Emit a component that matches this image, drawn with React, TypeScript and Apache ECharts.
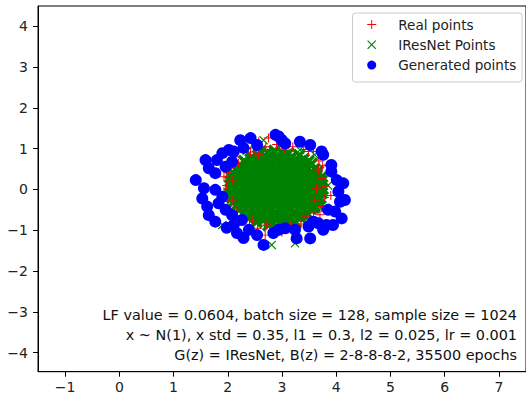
import React, { useEffect, useRef } from "react";
import * as echarts from "echarts";

const xTicks = [-1, 0, 1, 2, 3, 4, 5, 6, 7];
const yTicks = [-4, -3, -2, -1, 0, 1, 2, 3, 4];

const seriesNames = ["Real points", "IResNet Points", "Generated points"];

const annotationLines = [
  "LF value = 0.0604, batch size = 128, sample size = 1024",
  "x ~ N(1), x std = 0.35, l1 = 0.3, l2 = 0.025, lr = 0.001",
  "G(z) = IResNet, B(z) = 2-8-8-8-2, 35500 epochs",
];

const realPoints: number[][] = [
  [2.2, 0.64], [2.57, 0.85], [3.58, 0.93], [3.67, 0.48], [3.98, 0.31], [3.73, 0.27],
  [1.93, -0.05], [1.93, 0.31], [2.02, 0.52], [2.29, -0.71], [2.72, -0.87], [2.69, -1.12],
  [3.43, -0.67], [3.58, -0.58], [3.73, -0.42], [2.75, 1.26], [2.57, 1.17], [3.49, 0.93],
  [2.08, 0.23], [2.08, -0.26], [2.17, -0.5], [2.45, -0.75], [3.15, -0.87], [3.61, -0.26],
  [3.64, 0.03], [2.35, 1.0], [3.2, 1.05], [3.85, 0.6], [3.9, -0.15], [2.0, -0.4],
  [1.98, 0.1], [2.55, -0.95], [3.35, -0.85], [3.0, -1.05], [2.9, 1.1],
  [2.12, 0.8], [2.42, 0.92], [2.48, 1.02], [2.7, 1.05], [3.05, 1.0], [3.4, 0.98], [3.68, 0.7],
  [3.75, 0.58], [3.8, 0.08], [3.78, -0.2], [3.7, -0.62], [3.55, -0.8], [3.25, -0.95],
  [2.85, -1.0], [2.4, -0.88], [2.2, -0.8], [2.05, -0.62], [1.96, -0.2], [1.99, 0.42],
];

const iresnetPoints: number[][] = [
  [2.6, 0.93], [2.73, 0.9], [2.86, 0.95], [2.99, 0.91], [3.12, 0.88],
  [2.44, 0.8], [2.56, 0.84], [2.69, 0.81], [2.81, 0.85], [2.94, 0.79], [3.06, 0.83], [3.19, 0.8], [3.32, 0.84],
  [2.3, 0.7], [2.42, 0.74], [2.54, 0.71], [2.66, 0.75], [2.79, 0.69], [2.91, 0.73], [3.03, 0.7], [3.15, 0.76], [3.28, 0.71], [3.4, 0.74], [3.49, 0.69],
  [2.22, 0.6], [2.34, 0.64], [2.46, 0.61], [2.58, 0.65], [2.71, 0.59], [2.83, 0.63], [2.95, 0.6], [3.07, 0.66], [3.19, 0.61], [3.31, 0.64], [3.43, 0.59], [3.55, 0.63],
  [2.15, 0.5], [2.27, 0.54], [2.39, 0.51], [2.51, 0.55], [2.63, 0.49], [2.75, 0.53], [2.87, 0.5], [2.99, 0.56], [3.11, 0.51], [3.23, 0.54], [3.35, 0.49], [3.47, 0.53], [3.6, 0.5],
  [2.1, 0.4], [2.22, 0.44], [2.34, 0.41], [2.46, 0.45], [2.58, 0.39], [2.7, 0.43], [2.82, 0.4], [2.94, 0.46], [3.06, 0.41], [3.18, 0.44], [3.3, 0.39], [3.42, 0.43], [3.54, 0.4], [3.66, 0.44],
  [2.07, 0.3], [2.19, 0.34], [2.31, 0.31], [2.43, 0.35], [2.55, 0.29], [2.67, 0.33], [2.79, 0.3], [2.91, 0.36], [3.03, 0.31], [3.15, 0.34], [3.27, 0.29], [3.39, 0.33], [3.51, 0.3], [3.64, 0.34], [3.72, 0.29],
  [2.05, 0.2], [2.17, 0.24], [2.29, 0.21], [2.41, 0.25], [2.53, 0.19], [2.65, 0.23], [2.77, 0.2], [2.89, 0.26], [3.01, 0.21], [3.13, 0.24], [3.25, 0.19], [3.37, 0.23], [3.49, 0.2], [3.61, 0.24], [3.73, 0.21],
  [2.04, 0.1], [2.16, 0.14], [2.28, 0.11], [2.4, 0.15], [2.52, 0.09], [2.64, 0.13], [2.76, 0.1], [2.88, 0.16], [3.0, 0.11], [3.12, 0.14], [3.24, 0.09], [3.36, 0.13], [3.48, 0.1], [3.6, 0.14], [3.74, 0.11],
  [2.05, 0.0], [2.17, 0.04], [2.29, 0.01], [2.41, 0.05], [2.53, -0.01], [2.65, 0.03], [2.77, 0.0], [2.89, 0.06], [3.01, 0.01], [3.13, 0.04], [3.25, -0.01], [3.37, 0.03], [3.49, 0.0], [3.61, 0.04], [3.75, 0.01],
  [2.06, -0.1], [2.18, -0.06], [2.3, -0.09], [2.42, -0.05], [2.54, -0.11], [2.66, -0.07], [2.78, -0.1], [2.9, -0.04], [3.02, -0.09], [3.14, -0.06], [3.26, -0.11], [3.38, -0.07], [3.5, -0.1], [3.62, -0.06], [3.73, -0.09],
  [2.08, -0.2], [2.2, -0.16], [2.32, -0.19], [2.44, -0.15], [2.56, -0.21], [2.68, -0.17], [2.8, -0.2], [2.92, -0.14], [3.04, -0.19], [3.16, -0.16], [3.28, -0.21], [3.4, -0.17], [3.52, -0.2], [3.64, -0.16], [3.71, -0.21],
  [2.11, -0.3], [2.23, -0.26], [2.35, -0.29], [2.47, -0.25], [2.59, -0.31], [2.71, -0.27], [2.83, -0.3], [2.95, -0.24], [3.07, -0.29], [3.19, -0.26], [3.31, -0.31], [3.43, -0.27], [3.55, -0.3], [3.67, -0.26],
  [2.15, -0.4], [2.27, -0.36], [2.39, -0.39], [2.51, -0.35], [2.63, -0.41], [2.75, -0.37], [2.87, -0.4], [2.99, -0.34], [3.11, -0.39], [3.23, -0.36], [3.35, -0.41], [3.47, -0.37], [3.6, -0.4], [3.66, -0.35],
  [2.21, -0.5], [2.33, -0.46], [2.45, -0.49], [2.57, -0.45], [2.69, -0.51], [2.81, -0.47], [2.93, -0.5], [3.05, -0.44], [3.17, -0.49], [3.29, -0.46], [3.41, -0.51], [3.53, -0.47], [3.59, -0.44],
  [2.28, -0.6], [2.4, -0.56], [2.52, -0.59], [2.64, -0.55], [2.76, -0.61], [2.88, -0.57], [3.0, -0.6], [3.12, -0.54], [3.24, -0.59], [3.36, -0.56], [3.48, -0.61],
  [2.38, -0.7], [2.5, -0.66], [2.62, -0.69], [2.74, -0.65], [2.86, -0.71], [2.98, -0.67], [3.1, -0.7], [3.22, -0.64], [3.34, -0.69], [3.42, -0.66],
  [2.53, -0.8], [2.65, -0.76], [2.77, -0.79], [2.89, -0.75], [3.01, -0.81], [3.13, -0.77], [3.25, -0.8],
  [2.75, -0.88], [2.9, -0.9], [3.05, -0.86],
];

const iresnetStray: number[][] = [
  [2.66, 1.21], [3.33, 0.97], [2.81, -1.36], [3.24, -1.32], [1.9, -0.87], [2.0, 0.6],
  [3.85, 0.1], [3.8, -0.45], [2.1, -0.7], [3.6, 0.85], [2.35, 0.95],
];

const generatedPoints: number[][] = [
  [1.41, 0.23], [1.56, 0.03], [1.53, -0.22], [1.62, -0.42], [1.65, -0.63], [1.77, -0.79],
  [1.59, 0.72], [1.65, 0.52], [1.77, 0.4], [1.8, 0.72], [1.9, 0.89], [2.02, 0.97],
  [2.11, 0.93], [2.23, 1.21], [2.42, 1.26], [2.54, 1.09], [2.08, 0.68], [1.96, 0.56],
  [1.77, -0.01], [1.9, -0.18], [1.83, -0.34], [1.96, -0.5], [2.08, -0.63], [2.11, -0.87],
  [2.17, -1.07], [2.26, -0.75], [2.39, -0.99], [2.54, -1.12], [2.66, -1.36], [2.84, -1.07],
  [2.94, -0.99], [3.06, -0.95], [3.24, -0.99], [3.27, -1.2], [3.52, -1.2], [3.49, -0.91],
  [3.58, -0.79], [3.67, -0.83], [3.82, -0.87], [3.94, -0.87], [4.1, -0.71], [3.85, -0.5],
  [3.98, -0.54], [4.07, -0.3], [4.16, -0.26], [4.04, -0.05], [4.13, 0.15], [4.01, 0.23],
  [3.91, 0.44], [3.91, 0.6], [3.76, 0.85], [3.73, 0.93], [3.52, 1.09], [3.33, 1.17],
  [3.06, 1.13], [2.94, 1.3], [2.88, 1.34], [3.0, 1.21], [2.29, 1.02], [2.29, -1.19],
  [1.98, -0.94], [3.76, -0.99],
];

const plusPath = "path://M4.45,0H5.55V4.45H10V5.55H5.55V10H4.45V5.55H0V4.45H4.45Z";
const crossThin = "path://M0,0.9L0.9,0L5,4.1L9.1,0L10,0.9L5.9,5L10,9.1L9.1,10L5,5.9L0.9,10L0,9.1L4.1,5Z";
const crossThick = "path://M0,1.9L1.9,0L5,3.1L8.1,0L10,1.9L6.9,5L10,8.1L8.1,10L5,6.9L1.9,10L0,8.1L3.1,5Z";

const fmt = (v: number) => (v < 0 ? "\u2212" + Math.abs(v) : String(v));

export default function App() {
  const ref = useRef<HTMLDivElement>(null);
  useEffect(() => {
    if (!ref.current) return;
    const chart = echarts.init(ref.current, null, { renderer: "svg" });
    const font = "DejaVu Sans";
    const greenData = [
      ...iresnetPoints.map((p) => ({ value: p })),
      ...iresnetStray.map((p) => ({ value: p, symbol: crossThin, symbolSize: 9 })),
    ];
    chart.setOption({
      animation: false,
      backgroundColor: "#ffffff",
      grid: {
        left: 38,
        top: 6,
        width: 490.5,
        height: 365.7,
        show: true,
        borderColor: "#000",
        borderWidth: 1,
        backgroundColor: "transparent",
      },
      xAxis: {
        type: "value",
        min: -1.5,
        max: 7.5,
        splitLine: { show: false },
        axisLine: { show: true, onZero: false, lineStyle: { color: "#000", width: 1 } },
        axisTick: { show: true, inside: false, length: 5, lineStyle: { color: "#000" }, customValues: xTicks },
        axisLabel: { customValues: xTicks, formatter: fmt, color: "#222", fontSize: 14, fontFamily: font, margin: 8 },
      },
      yAxis: {
        type: "value",
        min: -4.47,
        max: 4.5,
        splitLine: { show: false },
        axisLine: { show: true, onZero: false, lineStyle: { color: "#000", width: 1 } },
        axisTick: { show: true, inside: false, length: 5, lineStyle: { color: "#000" }, customValues: yTicks },
        axisLabel: { customValues: yTicks, formatter: fmt, color: "#222", fontSize: 14, fontFamily: font, margin: 10 },
      },
      legend: {
        orient: "vertical",
        left: 367.2,
        top: 17.5,
        padding: 0,
        itemGap: 6.3,
        itemWidth: 9,
        itemHeight: 9,
        z: 5,
        textStyle: { fontSize: 13.6, fontFamily: font, color: "#222", padding: [0, 0, 0, 17] },
        data: [
          { name: seriesNames[0], icon: plusPath, itemStyle: { color: "#ff0000" } },
          { name: seriesNames[1], icon: crossThin, itemStyle: { color: "#008000" } },
          { name: seriesNames[2], icon: "circle", itemStyle: { color: "#0000ff" } },
        ],
      },
      graphic: [
        {
          type: "rect",
          z: 3,
          shape: { x: 352.5, y: 13, width: 169.5, height: 69, r: 3 },
          style: { fill: "rgba(255,255,255,0.85)", stroke: "#cccccc", lineWidth: 1 },
        },
        ...annotationLines.map((t, i) => ({
          type: "text",
          z: 3,
          x: 517,
          y: 315 + i * 20,
          style: {
            text: t,
            align: "right",
            verticalAlign: "middle",
            fontSize: 14.4,
            fontFamily: font,
            fill: "#111",
          },
        })),
      ],
      series: [
        {
          name: seriesNames[1],
          type: "scatter",
          data: greenData,
          symbol: crossThick,
          symbolSize: 13,
          itemStyle: { color: "#008000", opacity: 1 },
        },
        {
          name: seriesNames[0],
          type: "scatter",
          data: realPoints,
          symbol: plusPath,
          symbolSize: 9,
          itemStyle: { color: "#ff0000", opacity: 1 },
        },
        {
          name: seriesNames[2],
          type: "scatter",
          data: generatedPoints,
          symbol: "circle",
          symbolSize: 12,
          itemStyle: { color: "#0000ff", opacity: 1 },
        },
      ],
    });
    return () => chart.dispose();
  }, []);
  return (
    <div
      ref={ref}
      style={{ position: "fixed", left: 0, top: 0, width: 526, height: 395 }}
    />
  );
}
